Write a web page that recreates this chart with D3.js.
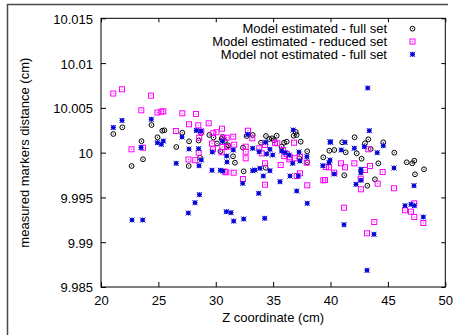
<!DOCTYPE html>
<html><head><meta charset="utf-8">
<script src="https://cdn.jsdelivr.net/npm/d3@7/dist/d3.min.js"></script>
<style>body{margin:0;background:#fff}svg{display:block}text{font-family:"Liberation Sans",Arial,sans-serif}</style>
</head><body>
<script>
const xTicks = [20,25,30,35,40,45,50];
const yTicks = [9.985,9.99,9.995,10,10.005,10.01,10.015];
const seriesNames = ["Model estimated - full set","Model estimated - reduced set","Model not estimated - full set"];
const fullSet = [[21.07,10.00208],[21.86,10.00283],[22.67,9.99851],[23.66,9.99926],[23.53,10.00128],[24.40,10.00309],[24.92,10.00171],[25.34,10.00245],[25.52,10.00250],[26.56,10.00063],[27.08,10.00223],[27.64,9.99851],[27.68,10.00127],[28.50,10.00136],[28.63,9.99944],[28.71,10.00216],[29.44,10.00197],[29.80,10.00169],[30.11,10.00102],[30.40,10.00015],[30.59,10.00175],[30.95,10.00066],[31.09,10.00082],[31.50,9.99959],[31.67,9.99888],[32.37,10.00055],[32.43,9.99792],[33.22,10.00197],[30.80,10.0013],[33.94,10.00111],[34.38,10.00186],[34.66,10.00152],[34.90,10.0016],[35.07,10.00138],[35.31,10.00189],[35.74,10.00066],[35.95,10.00111],[36.18,10.00122],[36.79,10.00189],[36.97,10.00231],[37.05,10.00197],[37.40,10.00122],[37.97,10.00015],[37.97,9.99892],[39.37,9.99948],[39.89,10.00022],[34.35,9.99832],[37.28,9.99937],[40.33,10.0003],[41.02,10.00116],[41.32,10.00004],[42.10,10.00171],[42.28,9.99993],[42.71,9.99932],[43.00,10.00104],[43.29,10.00149],[43.50,10.00041],[44.60,10.00116],[44.16,9.99881],[45.56,9.99999],[46.64,9.99892],[47.12,9.99881],[47.30,9.9991],[48.14,9.99814],[47.36,9.99758],[41.20,9.99747],[43.87,9.99702],[43.20,9.99631],[30.52,10.00152],[32.69,10.00186]];
const reducedSet = [[21.07,10.0066],[21.83,10.00707],[24.36,10.00636],[23.51,10.00473],[22.66,10.00037],[23.66,10.00055],[24.91,10.00448],[25.25,10.00457],[25.43,10.00462],[26.53,10.00242],[27.08,10.00439],[28.28,10.00432],[27.67,10.00317],[28.48,10.00305],[29.38,10.00328],[27.62,9.99924],[28.21,9.99916],[28.51,9.99999],[28.56,10.00167],[28.74,10.00234],[29.78,10.00216],[30.06,10.00228],[30.54,10.00267],[30.95,10.00167],[29.67,10.00102],[30.57,10.00063],[30.92,9.99781],[30.65,10.00167],[31.52,10.00178],[31.04,10.00066],[31.61,10.00089],[30.52,10.00004],[32.61,10.00011],[32.81,10.00245],[33.18,10.0016],[30.80,9.99787],[31.56,9.99776],[32.37,9.99706],[32.61,9.99937],[29.76,10.00037],[33.79,10.00049],[34.00,9.99993],[34.29,10.00085],[35.16,10.00111],[35.36,10.00104],[35.88,10.0003],[35.97,9.99963],[36.18,9.99985],[36.47,9.99948],[36.82,10.00111],[37.34,9.99955],[36.90,9.99937],[34.29,9.99881],[35.66,9.99862],[37.34,9.99769],[37.05,9.99739],[39.60,9.9984],[36.41,9.99926],[34.29,9.99642],[37.97,9.99635],[39.37,9.99691],[40.91,9.99881],[41.26,9.99836],[42.07,9.99881],[39.87,9.99836],[40.33,9.99776],[43.00,9.99806],[43.44,9.99851],[44.54,9.99784],[43.29,10.00037],[42.63,9.99709],[42.65,9.99591],[44.11,9.99653],[45.53,9.99602],[41.17,9.99385],[46.49,9.99356],[47.01,9.99341],[47.30,9.99435],[47.30,9.99282],[48.08,9.99215],[43.81,9.99226],[43.18,9.991],[39.52,9.99695],[32.61,10.00066],[37.92,9.99888]];
const notEstimated = [[21.07,10.00281],[21.83,10.00359],[23.49,10.00058],[24.38,10.00372],[24.91,10.00111],[25.25,10.00093],[25.43,10.0013],[26.55,9.99881],[22.70,9.99248],[23.63,9.99248],[27.06,10.00175],[27.67,10.00041],[28.50,10.00044],[28.54,9.99854],[28.30,10.00247],[28.71,10.00242],[28.74,9.99918],[29.70,10.00007],[30.95,9.99963],[30.98,9.99896],[30.59,10.00127],[27.61,9.99326],[28.19,9.99441],[28.57,9.99531],[29.67,9.99803],[30.40,9.99803],[30.63,9.99795],[30.92,9.99341],[31.53,10.0003],[32.78,10.00205],[33.22,10.00049],[33.22,9.99798],[31.33,9.9933],[31.56,9.99236],[32.43,9.99259],[32.35,9.99658],[33.78,10.00011],[34.35,10.00116],[34.72,10.00037],[34.96,9.99974],[34.44,9.99985],[35.74,10.00018],[36.03,9.99999],[36.40,9.99974],[36.70,9.99881],[36.75,10.00253],[37.25,10.00007],[37.34,9.99907],[39.95,10.00122],[39.87,9.99888],[33.42,9.99806],[33.85,9.99825],[34.14,9.99739],[34.72,9.99799],[36.47,9.99739],[37.19,9.99739],[35.60,9.99676],[33.74,9.99546],[37.05,9.99572],[37.97,9.99434],[34.26,9.99267],[43.24,10.00722],[43.38,10.00245],[40.01,10.00116],[41.26,10.00116],[42.07,10.00049],[42.94,10.00066],[44.07,9.99999],[44.60,10.00078],[40.94,10.0003],[39.95,9.99918],[42.65,9.99814],[42.65,9.99776],[45.53,9.99829],[40.33,9.99762],[42.22,9.99647],[42.65,9.99691],[47.27,9.99631],[46.49,9.99408],[47.01,9.99423],[47.30,9.99408],[48.08,9.99282],[41.17,9.99196],[43.79,9.99088],[43.18,9.98686],[37.94,9.99955],[39.33,9.99854]];

const W = 458, H = 335;
const m = {l:101, r:445.3, t:18.3, b:287};
const svg = d3.select("body").append("svg").attr("width",W).attr("height",H);

// outer frame (top and left)
svg.append("path").attr("d","M7.5,335V4.5H448").attr("fill","none").attr("stroke","#4a4a4a").attr("stroke-width",1.5);

const x = d3.scaleLinear().domain([20,50]).range([m.l,m.r]);
const y = d3.scaleLinear().domain([9.985,10.015]).range([m.b,m.t]);

const fmtY = d3.format("");
function styleAxis(g){
  g.select(".domain").remove();
  g.selectAll("line").attr("stroke","#000");
  g.selectAll("text").attr("font-size",13).attr("fill","#000").attr("font-family",'"Liberation Sans",Arial,sans-serif');
}
svg.append("g").attr("transform",`translate(0,${m.b})`)
  .call(d3.axisBottom(x).tickValues(xTicks).tickSize(-5).tickPadding(9).tickFormat(d3.format("d")))
  .call(styleAxis);
svg.append("g").attr("transform",`translate(0,${m.t})`)
  .call(d3.axisTop(x).tickValues(xTicks).tickSize(-4).tickFormat(""))
  .call(styleAxis);
const ly = svg.append("g").attr("transform",`translate(${m.l},0)`)
  .call(d3.axisLeft(y).tickValues(yTicks).tickSize(-5).tickPadding(8).tickFormat(d => String(+d.toFixed(3))))
  .call(styleAxis);
ly.selectAll("text").attr("dy","0.38em");
svg.append("g").attr("transform",`translate(${m.r},0)`)
  .call(d3.axisRight(y).tickValues(yTicks).tickSize(-4).tickFormat(""))
  .call(styleAxis);

svg.append("rect").attr("x",m.l).attr("y",m.t).attr("width",m.r-m.l).attr("height",m.b-m.t)
  .attr("fill","none").attr("stroke","#000").attr("stroke-width",1);

// axis titles
svg.append("text").attr("x",(m.l+m.r)/2).attr("y",322).attr("text-anchor","middle").attr("font-size",13).text("Z coordinate (cm)");
svg.append("text").attr("transform",`translate(29,${(m.t+m.b)/2}) rotate(-90)`).attr("text-anchor","middle").attr("font-size",13).text("measured markers distance (cm)");

// markers
function circleMark(g){
  g.append("circle").attr("r",2.4).attr("fill","none").attr("stroke","#000").attr("stroke-width",1);
  g.append("rect").attr("x",-0.5).attr("y",-0.5).attr("width",1).attr("height",1).attr("fill","#000");
}
function squareMark(g){
  g.append("rect").attr("x",-2.5).attr("y",-2.5).attr("width",5).attr("height",5).attr("fill","none").attr("stroke","#ff00ff").attr("stroke-width",1);
  g.append("rect").attr("x",-0.5).attr("y",-0.5).attr("width",1).attr("height",1).attr("fill","#ff00ff");
}
function starMark(g){
  g.append("rect").attr("x",-2).attr("y",-2).attr("width",4).attr("height",4).attr("fill","#3333ff");
  g.append("path").attr("d","M-2.5,-2.5L2.5,2.5M-2.5,2.5L2.5,-2.5M-2.5,0H2.5M0,-2.5V2.5").attr("stroke","#0000cc").attr("stroke-width",1);
}
const plot = svg.append("g");
const series = [[fullSet,circleMark],[reducedSet,squareMark],[notEstimated,starMark]];
series.forEach(([data,mark]) => {
  plot.append("g").selectAll("g").data(data).join("g")
    .attr("transform",d => `translate(${x(d[0]).toFixed(1)},${y(d[1]).toFixed(1)})`)
    .each(function(){ mark(d3.select(this)); });
});

// legend
const leg = svg.append("g");
const marks = [circleMark,squareMark,starMark];
seriesNames.forEach((n,i) => {
  const yy = 28.7 + i*12.8;
  leg.append("text").attr("x",387).attr("y",yy).attr("dy","0.33em").attr("text-anchor","end").attr("font-size",13).text(n);
  const g = leg.append("g").attr("transform",`translate(412.5,${yy})`);
  marks[i](g);
});
</script>
</body></html>
